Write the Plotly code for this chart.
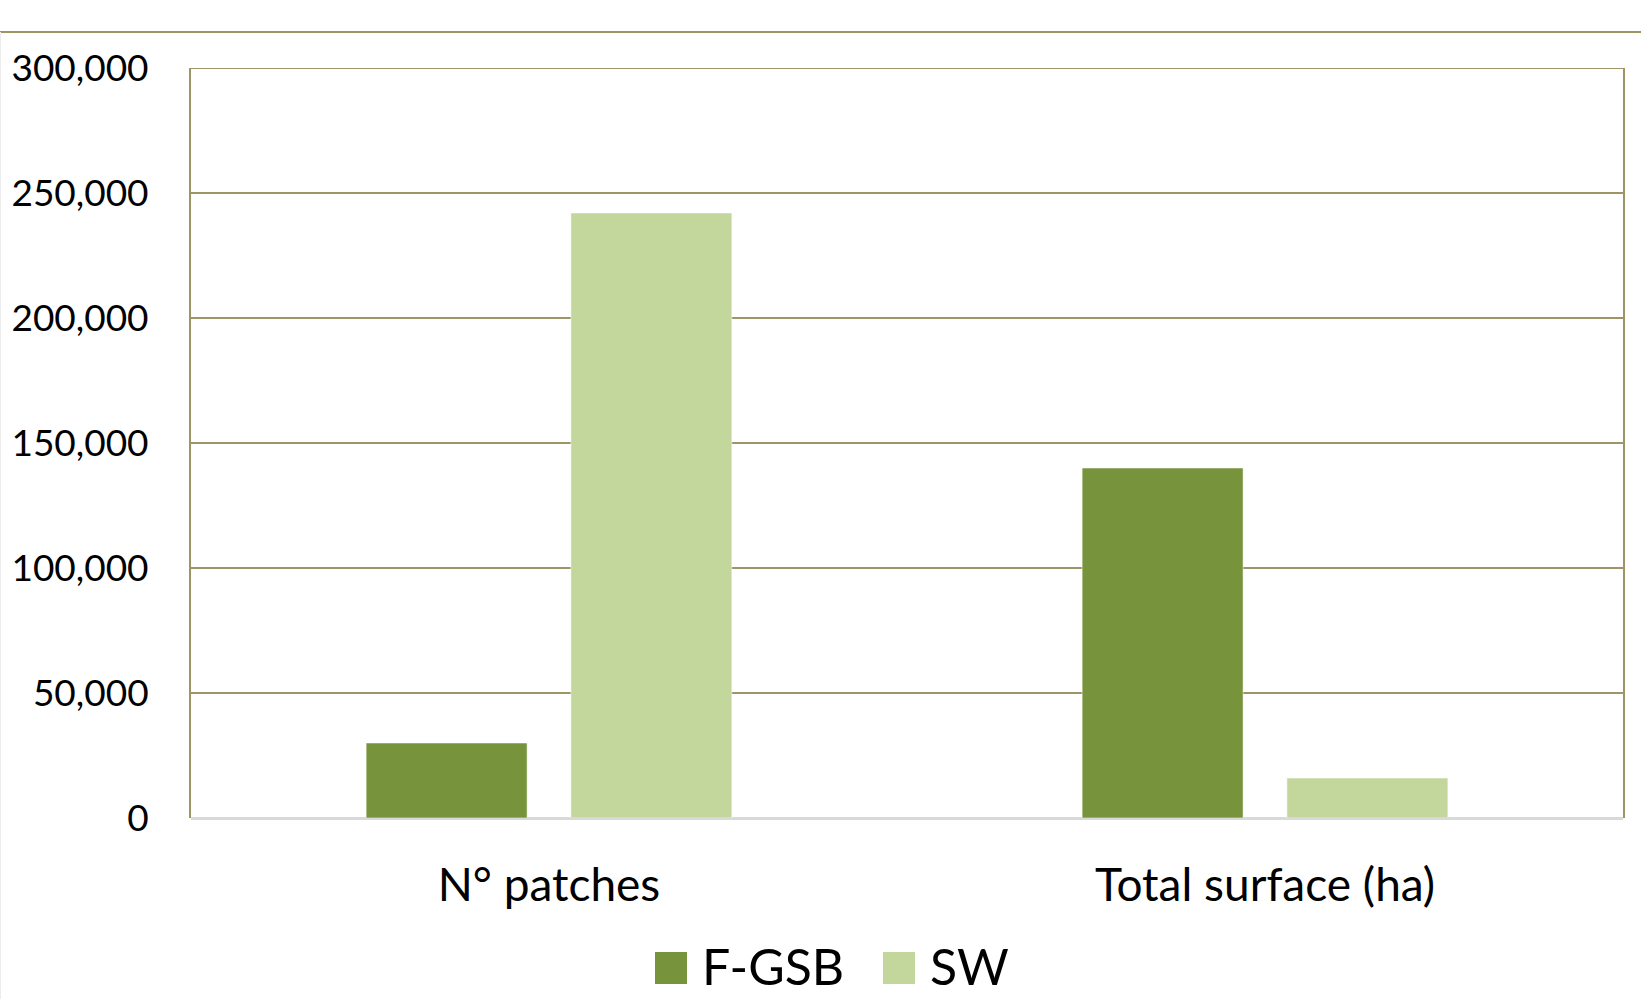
import plotly.graph_objects as go

categories = ["N° patches", "Total surface (ha)"]
series_names = ["F-GSB", "SW"]
fgsb_values = [30000, 140000]
sw_values = [242000, 16000]
y_tick_values = [0, 50000, 100000, 150000, 200000, 250000, 300000]

DARK = "#77933c"
LIGHT = "#c3d69b"
OLIVE = "#9d9566"
GRAY0 = "#d9d9d9"
FONT = "Lato, 'Open Sans', sans-serif"

W, H = 1641, 999
L, R, T, B = 191, 18, 68, 181
PW = W - L - R
PH = H - T - B


def px(x):
    return (x - L) / PW


def py(y):
    return (H - B - y) / PH


fig = go.Figure()
for name, vals, col in [(series_names[0], fgsb_values, DARK), (series_names[1], sw_values, LIGHT)]:
    fig.add_trace(go.Bar(
        x=categories, y=vals, name=name,
        marker=dict(color=col, line=dict(color="rgba(255,255,255,0.5)", width=1)),
        showlegend=False, hoverinfo="x+y+name",
    ))

shapes = [
    # top rule across the whole image
    dict(type="line", xref="paper", yref="paper", x0=px(0), x1=px(W), y0=py(32), y1=py(32),
         line=dict(color=OLIVE, width=2)),
    # faint left border
    dict(type="line", xref="paper", yref="paper", x0=px(0.5), x1=px(0.5), y0=py(32), y1=py(H),
         line=dict(color="#ececec", width=1)),
    # top frame of the plot area
    dict(type="line", xref="paper", yref="y", x0=0, x1=1, y0=y_tick_values[-1], y1=y_tick_values[-1],
         line=dict(color=OLIVE, width=2), layer="below"),
]
annotations = []
legend_items = [(series_names[0], DARK, 655, 700), (series_names[1], LIGHT, 883, 928)]
for name, col, sx, tx in legend_items:
    shapes.append(dict(type="rect", xref="paper", yref="paper",
                       x0=px(sx), x1=px(sx + 32), y0=py(952), y1=py(984),
                       fillcolor=col, line=dict(width=0)))
    annotations.append(dict(text=name, xref="paper", yref="paper", x=px(tx), y=py(966),
                            xanchor="left", yanchor="middle", showarrow=False,
                            font=dict(family=FONT, size=50, color="black")))

fig.update_layout(
    width=W, height=H,
    margin=dict(l=L, r=R, t=T, b=B, pad=0),
    paper_bgcolor="white", plot_bgcolor="white",
    barmode="group", bargap=0.428, bargroupgap=0.214,
    shapes=shapes, annotations=annotations,
    showlegend=False,
    font=dict(family=FONT, color="black"),
)
fig.update_yaxes(
    range=[0, 300000], tickvals=y_tick_values, tickformat=",",
    showgrid=True, gridcolor=OLIVE, gridwidth=2,
    showline=True, linecolor=OLIVE, linewidth=2, mirror=True,
    zeroline=True, zerolinecolor=GRAY0, zerolinewidth=3,
    ticks="", ticklabelstandoff=33, automargin=False,
    tickfont=dict(family=FONT, size=37, color="black"),
)
fig.update_xaxes(
    showgrid=False, showline=False, ticks="", ticklabelstandoff=36, automargin=False,
    tickfont=dict(family=FONT, size=46, color="black"),
)

fig.write_html("out.html", config={"displayModeBar": False})
with open("out.html", "r", encoding="utf-8") as f:
    html = f.read()
html = html.replace("<body>", '<body style="margin:0;padding:0">', 1)
with open("out.html", "w", encoding="utf-8") as f:
    f.write(html)
